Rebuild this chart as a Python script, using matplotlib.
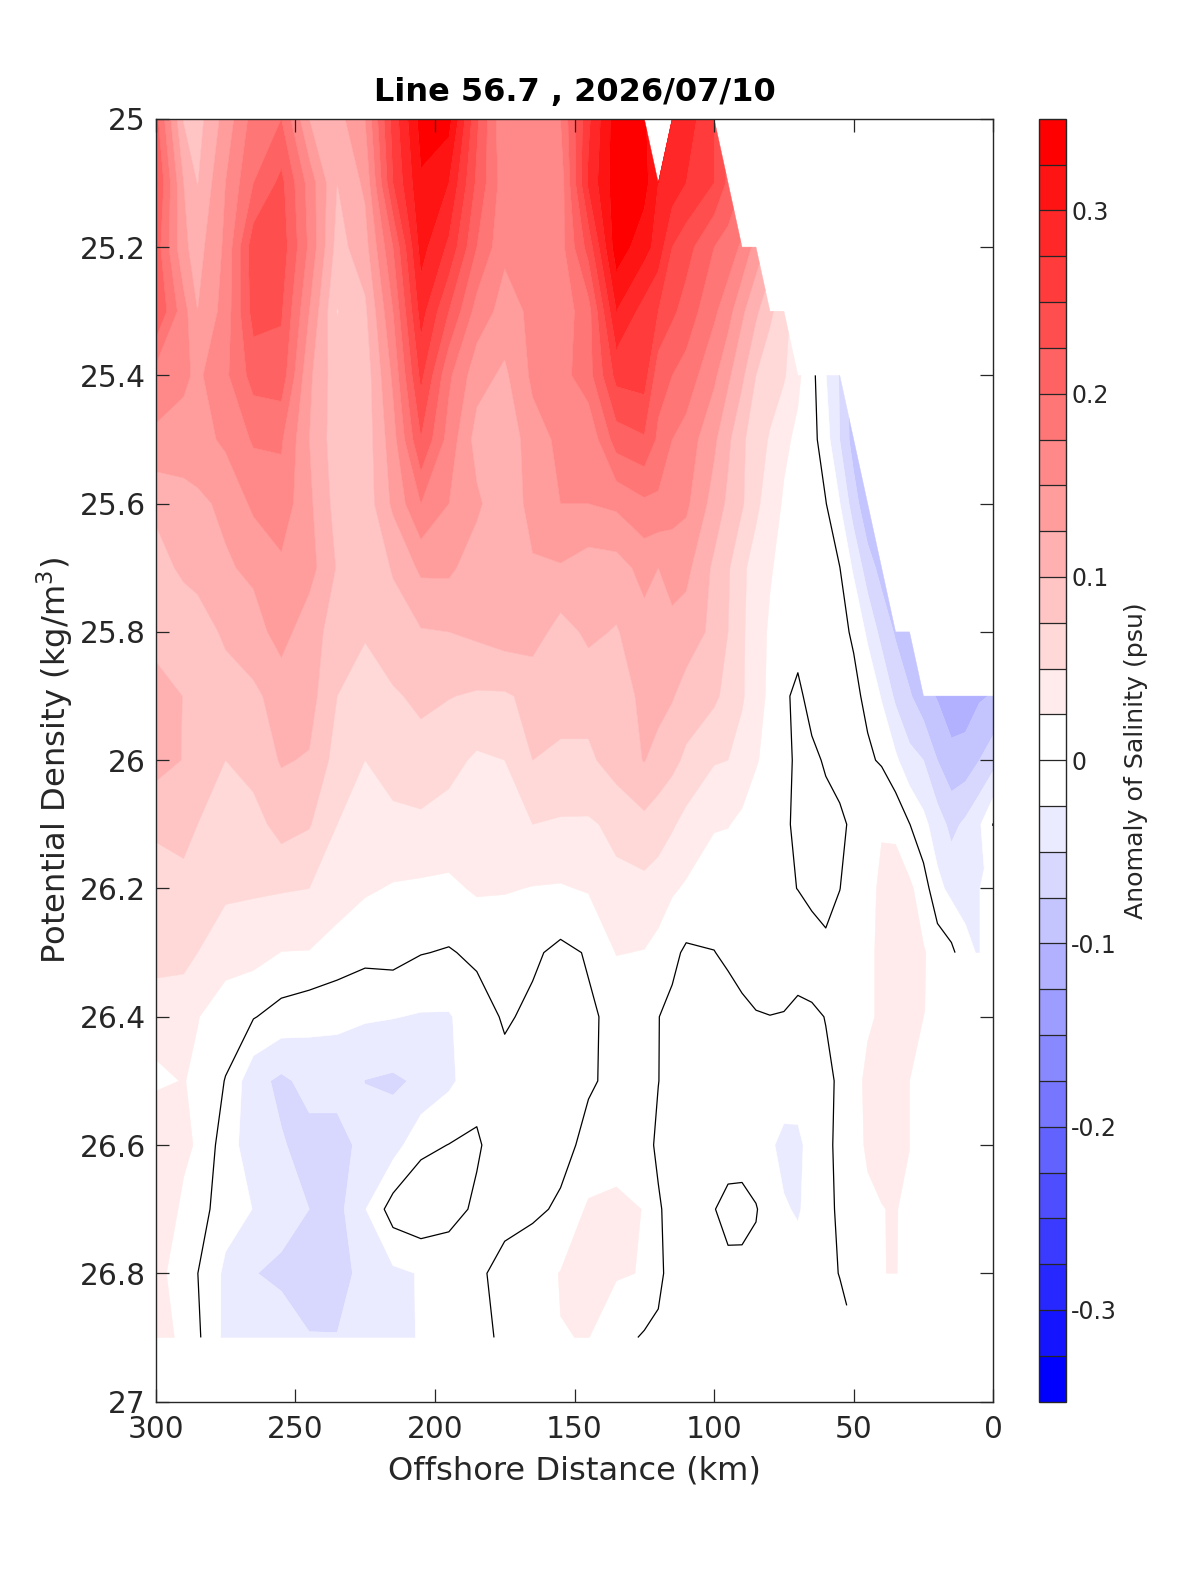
import numpy as np
import matplotlib
matplotlib.use("Agg")
import matplotlib.pyplot as plt

nan = np.nan

# offshore distance of each column (km) and density of each row (kg/m3)
distance_km = [300, 290, 285, 275, 265, 255, 245, 235, 225, 215, 205, 195, 185, 175, 165, 155, 145, 135,
               125, 120, 115, 110, 100, 95, 90, 85, 80, 75, 70, 65, 60, 55, 50, 45, 40, 35, 30,
               25, 20, 15, 10, 5, 0]
density = [25.0, 25.1, 25.2, 25.3, 25.4, 25.5, 25.6, 25.7, 25.8, 25.9,
           26.0, 26.1, 26.2, 26.3, 26.4, 26.5, 26.6, 26.7, 26.8, 26.9]

# salinity anomaly read off along each density row, rows stop where the section has no data
s_250 = [.21, .098, .09, .135, .185, .20, .125, .115, .15, .26, .335, .335, .23, .15, .15, .175, .27, .34, .33, nan, .30, .29, .25]
s_251 = [.23, .125, .099, .15, .20, .232, .165, .10, .13, .25, .322, .30, .22, .16, .155, .16, .28, .34, .335, .30, .29, .275, .25, .22]
s_252 = [.215, .13, .115, .155, .24, .24, .17, .09, .115, .20, .31, .27, .20, .155, .155, .165, .235, .34, .31, .29, .25, .235, .20, .19, .17, .14]
s_253 = [.226, .16, .125, .16, .235, .228, .15, .074, .095, .175, .286, .225, .165, .14, .155, .16, .19, .30, .265, .25, .23, .215, .18, .16, .13, .105, .08, .06]
s_254 = [.165, .155, .145, .17, .21, .215, .13, .085, .085, .155, .257, .18, .135, .12, .155, .165, .19, .258, .262, .21, .20, .19, .155, .13, .105, .075, .06, .053, .03, .008, -.024, -.052]
s_255 = [.145, .14, .14, .155, .178, .178, .125, .085, .085, .14, .224, .165, .115, .105, .14, .155, .155, .212, .222, .195, .175, .165, .13, .105, .08, .06, .048, .03, .02, .009, -.014, -.05, -.087]
s_256 = [.105, .115, .12, .13, .155, .165, .13, .09, .085, .13, .175, .15, .13, .105, .135, .15, .15, .155, .17, .17, .16, .155, .115, .095, .078, .055, .038, .022, .016, .008, .001, -.024, -.063, -.095]
s_257 = [.09, .105, .11, .122, .13, .145, .135, .098, .083, .102, .13, .13, .112, .105, .122, .123, .113, .115, .133, .125, .135, .132, .095, .078, .055, .04, .027, .018, .014, .01, .008, .0005, -.029, -.063, -.084]
s_258 = [.083, .083, .086, .105, .115, .135, .11, .09, .076, .09, .098, .10, .105, .112, .112, .09, .105, .098, .116, .115, .118, .113, .094, .075, .054, .035, .022, .012, .007, .004, .004, .004, -.002, -.03, -.058, -.078, -.095]
s_259 = [.12, .099, .09, .087, .095, .11, .11, .075, .07, .072, .08, .076, .072, .072, .081, .081, .085, .09, .105, .11, .102, .09, .08, .067, .053, .035, .02, .003, -.004, .0065, .007, .006, .004, -.004, -.027, -.055, -.072, -.09, -.102, -.115, -.113, -.103, -.098]
s_260 = [.11, .099, .082, .075, .085, .102, .098, .065, .05, .062, .066, .058, .046, .05, .075, .072, .07, .087, .101, .09, .082, .07, .052, .05, .04, .027, .017, .003, -.002, -.004, .002, .006, .006, .003, -.0023, -.02, -.042, -.05, -.075, -.092, -.09, -.075, -.06]
s_261 = [.08, .083, .075, .057, .065, .085, .077, .05, .04, .043, .045, .04, .035, .038, .05, .047, .047, .055, .068, .062, .053, .042, .027, .026, .02, .012, .006, .003, -.0035, -.008, -.006, -.003, .003, .008, .021, .02, .0006, -.018, -.038, -.057, -.045, -.028, .001]
s_262 = [.062, .068, .067, .055, .053, .052, .05, .037, .028, .023, .021, .02, .028, .027, .024, .023, .027, .045, .043, .038, .028, .022, .012, .01, .008, .006, .004, .002, -.0002, -.006, -.008, -.0002, .006, .008, .035, .036, .03, .012, -.018, -.032, -.035, -.038]
s_263 = [.06, .06, .05, .035, .034, .0245, .024, .015, .007, .009, .001, -.002, .005, .006, .004, -.006, .002, .026, .024, .017, .006, -.004, -.0005, .004, .006, .007, .008, .009, .008, .011, .005, .006, .01, .02, .03, .027, .028, .027, .015, .006, -.017, -.028]
s_264 = [.035, .03, .026, .012, .0015, -.01, -.017, -.02, -.022, -.024, -.027, -.027, -.012, .003, -.005, -.01, -.003, .005, .01, .0005, -.006, -.009, -.008, -.01, -.0035, -.0008, -.0002, -.0008, -.004, -.0032, .0005, .008, .012, .02, .03, .028, .028, .026]
s_265 = [.02, .026, .02, -.001, -.042, -.055, -.042, -.038, -.0505, -.054, -.046, -.03, -.01, -.008, -.006, -.005, -.002, .004, .008, .0003, -.006, -.008, -.01, -.01, -.009, -.008, -.007, -.007, -.006, -.005, -.003, .002, .012, .033, .032, .033, .0255]
s_266 = [.051, .027, .024, -.0135, -.038, -.048, -.058, -.062, -.04, -.036, -.006, .0005, .004, -.018, -.01, -.006, .005, .01, .006, -.003, -.007, -.01, -.015, -.014, -.014, -.015, -.02, -.034, -.034, -.01, -.006, .006, .012, .03, .03, .03, .0255]
s_267 = [.033, .023, .012, -.015, -.0255, -.04, -.05, -.058, -.026, .012, .02, .012, -.0056, -.007, -.004, .003, .029, .033, .024, .002, -.006, -.01, -.001, .009, .01, .0015, -.012, -.022, -.028, -.014, -.005, .003, .01, .018, .0245, .0262, .019]
s_268 = [.03, .017, .0003, -.03, -.049, -.055, -.06, -.062, -.04, -.03, -.0235, -.022, -.004, .007, .014, .026, .03, .027, .024, .0025, -.004, -.006, -.006, -.007, -.008, -.006, -.008, -.01, -.012, -.01, -.004, .0005, .006, .012, .024, .027, .01]
s_269 = [.027, .024, .004, -.031, -.035, -.037, -.049, -.049, -.035, -.029, -.024, -.018, -.008, .005, .014, .0245, .0255, .01, -.003, -.002, -.002, -.003, -.005, -.006, -.006, -.008, -.008, -.009, -.009, -.006, -.006, -.006]

rows = [s_250, s_251, s_252, s_253, s_254, s_255, s_256, s_257, s_258, s_259,
        s_260, s_261, s_262, s_263, s_264, s_265, s_266, s_267, s_268, s_269]

y_ticks = [25, 25.2, 25.4, 25.6, 25.8, 26, 26.2, 26.4, 26.6, 26.8, 27]
y_labels = ["25", "25.2", "25.4", "25.6", "25.8", "26", "26.2", "26.4", "26.6", "26.8", "27"]
x_ticks = [300, 250, 200, 150, 100, 50, 0]
cb_ticks = [-0.3, -0.2, -0.1, 0, 0.1, 0.2, 0.3]
cb_labels = ["-0.3", "-0.2", "-0.1", "0", "0.1", "0.2", "0.3"]

salinity = np.full((len(density), len(distance_km)), nan)
for i, row in enumerate(rows):
    salinity[i, :len(row)] = row
salinity = np.ma.masked_invalid(salinity)

# 28 bands of 0.025, white on both sides of zero
levels = np.linspace(-0.35, 0.35, 29)
fade = np.arange(13) / 13
colors = [(f, f, 1.0) for f in fade] + [(1, 1, 1), (1, 1, 1)] + [(1.0, f, f) for f in fade[::-1]]

dark = "#262626"
plt.rcParams["font.family"] = "DejaVu Sans"
plt.rcParams["axes.linewidth"] = 1.0
plt.rcParams["axes.edgecolor"] = dark

fig = plt.figure(figsize=(12, 15.75), dpi=100)
ax = fig.add_axes([155.7 / 1200, 1 - 1401.6 / 1575, 837.6 / 1200, 1282.8 / 1575])
cax = fig.add_axes([1039.3 / 1200, 1 - 1401.6 / 1575, 27 / 1200, 1282.8 / 1575])

cf = ax.contourf(distance_km, density, salinity, levels=levels, colors=colors, antialiased=True)
cf.set_edgecolor("face")
cf.set_linewidth(0.3)
ax.contour(distance_km, density, salinity, levels=[0], colors="black", linewidths=0.9)

ax.set_xlim(300, 0)
ax.set_ylim(27, 25)
ax.set_xticks(x_ticks)
ax.set_xticklabels([str(t) for t in x_ticks])
ax.set_yticks(y_ticks)
ax.set_yticklabels(y_labels)
ax.tick_params(direction="in", length=9.5, width=0.9, top=True, right=True, labelsize=21.3,
               labelcolor=dark, color=dark)
ax.tick_params(axis="x", pad=10)
ax.tick_params(axis="y", pad=7)
ax.set_xlabel("Offshore Distance (km)", fontsize=23.1, color=dark, labelpad=8)
ax.set_ylabel("Potential Density (kg/m$^3$)", fontsize=23.2, color=dark, labelpad=3)
ax.set_title("Line 56.7 , 2026/07/10", fontsize=23, fontweight="bold", color="black", pad=12.5)

cb = fig.colorbar(cf, cax=cax, drawedges=True, ticks=cb_ticks)
cb.ax.set_yticklabels(cb_labels)
cb.ax.tick_params(length=0, labelsize=17, labelcolor=dark, pad=3.6)
cb.dividers.set_color(dark)
cb.dividers.set_linewidth(0.9)
cb.outline.set_edgecolor(dark)
cb.set_label("Anomaly of Salinity (psu)", fontsize=18.2, color=dark, labelpad=5)

fig.savefig("out.png", dpi=100)
